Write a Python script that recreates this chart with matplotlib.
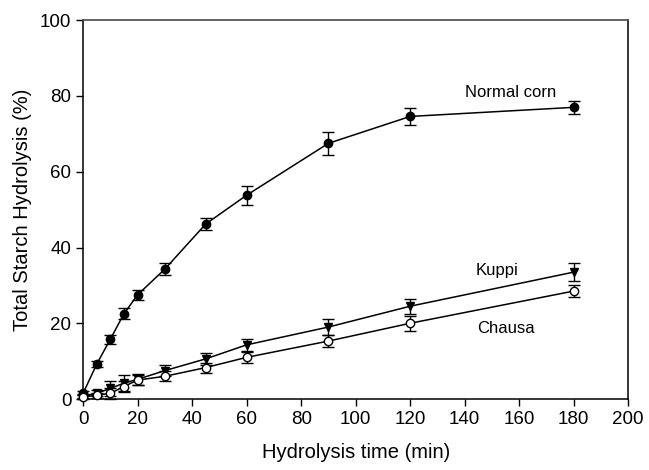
import matplotlib
matplotlib.use("Agg")
import matplotlib.pyplot as plt

plt.rcParams["font.family"] = ["Liberation Sans", "DejaVu Sans"]

time_min = [0, 5, 10, 15, 20, 30, 45, 60, 90, 120, 180]

normal_corn = [1.5, 9.2, 15.8, 22.5, 27.5, 34.3, 46.2, 53.8, 67.5, 74.6, 77.0]
normal_corn_err = [0.5, 0.8, 1.2, 1.5, 1.3, 1.6, 1.6, 2.5, 3.0, 2.3, 1.8]

kuppi = [0.8, 1.5, 2.8, 4.2, 5.2, 7.5, 10.6, 14.3, 19.0, 24.5, 33.5]
kuppi_err = [0.5, 0.8, 2.0, 2.2, 1.5, 1.5, 1.5, 1.5, 2.0, 2.0, 2.3]

chausa = [0.5, 1.0, 1.5, 3.3, 5.0, 6.0, 8.3, 11.0, 15.3, 20.0, 28.5]
chausa_err = [0.5, 0.6, 1.5, 1.5, 1.3, 1.3, 1.3, 1.5, 1.5, 2.0, 1.5]

fig = plt.figure(figsize=(6.49, 4.70), dpi=100)
ax = fig.add_axes([0.128, 0.151, 0.840, 0.806])

common = dict(color="black", linewidth=1.1, elinewidth=1.0, capsize=4,
              capthick=1.0, clip_on=False, zorder=3)
ax.errorbar(time_min, normal_corn, yerr=normal_corn_err, marker="o",
            markersize=6, markerfacecolor="black", **common)
ax.errorbar(time_min, kuppi, yerr=kuppi_err, marker="v",
            markersize=6, markerfacecolor="black", **common)
ax.errorbar(time_min, chausa, yerr=chausa_err, marker="o",
            markersize=6, markerfacecolor="white", **common)

ax.text(157, 81, "Normal corn", fontsize=12, ha="center", va="center")
ax.text(152, 34, "Kuppi", fontsize=12, ha="center", va="center")
ax.text(155, 18.5, "Chausa", fontsize=12, ha="center", va="center")

ax.set_xlim(0, 200)
ax.set_ylim(0, 100)
ax.set_xticks(range(0, 201, 20))
ax.set_yticks(range(0, 101, 20))
ax.tick_params(direction="out", length=5, labelsize=13.5, width=1)
ax.set_xlabel("Hydrolysis time (min)", fontsize=14.5, labelpad=11)
ax.set_ylabel("Total Starch Hydrolysis (%)", fontsize=14.5, labelpad=6)
for side in ("left", "bottom", "right"):
    ax.spines[side].set_linewidth(1.1)
ax.spines["top"].set_color("#555555")
ax.spines["top"].set_linewidth(1.3)

fig.savefig("out.png", dpi=100)
